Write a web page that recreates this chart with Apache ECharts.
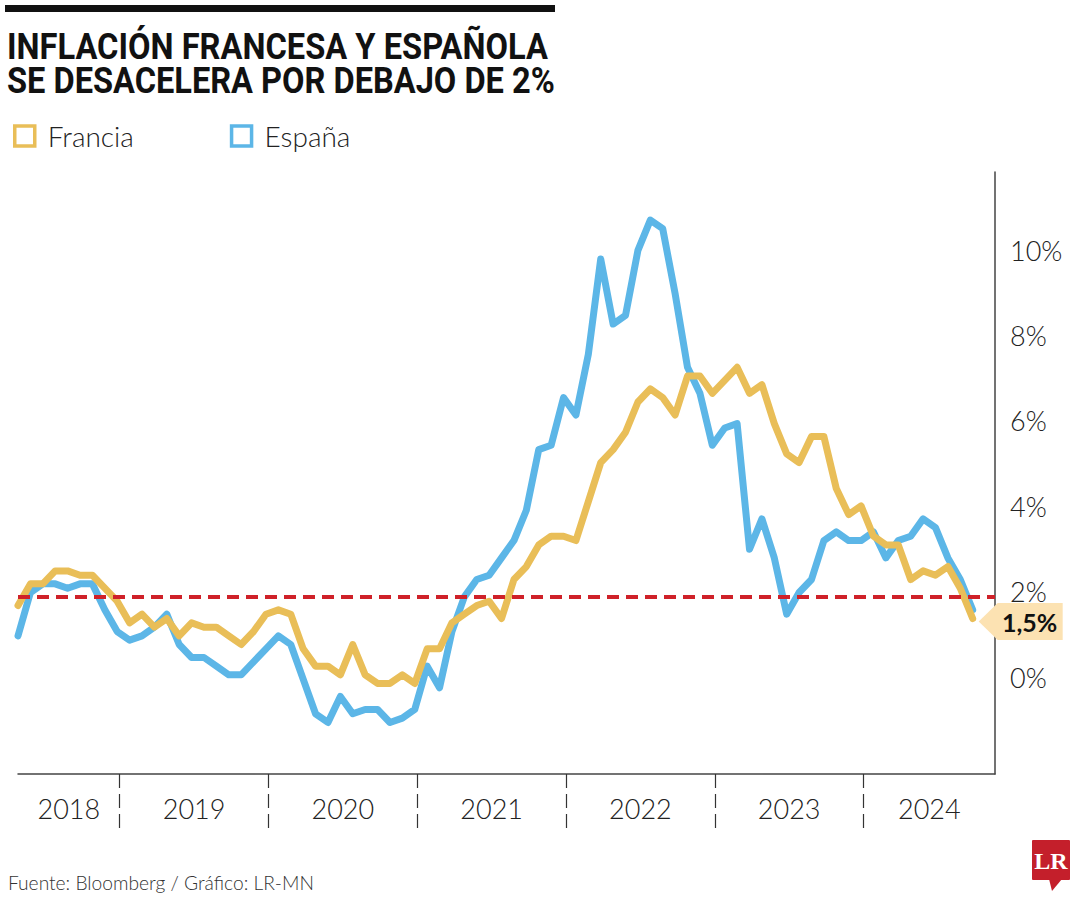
<!DOCTYPE html>
<html><head><meta charset="utf-8">
<script src="https://cdn.jsdelivr.net/npm/echarts@6/dist/echarts.min.js"></script>
<style>html,body{margin:0;padding:0;background:#fff}#c{width:1080px;height:900px}</style>
</head><body><div id="c"></div>
<script>
// ---------- data ----------
const months = [
 '2018-04','2018-05','2018-06','2018-07','2018-08','2018-09','2018-10','2018-11','2018-12',
 '2019-01','2019-02','2019-03','2019-04','2019-05','2019-06','2019-07','2019-08','2019-09','2019-10','2019-11','2019-12',
 '2020-01','2020-02','2020-03','2020-04','2020-05','2020-06','2020-07','2020-08','2020-09','2020-10','2020-11','2020-12',
 '2021-01','2021-02','2021-03','2021-04','2021-05','2021-06','2021-07','2021-08','2021-09','2021-10','2021-11','2021-12',
 '2022-01','2022-02','2022-03','2022-04','2022-05','2022-06','2022-07','2022-08','2022-09','2022-10','2022-11','2022-12',
 '2023-01','2023-02','2023-03','2023-04','2023-05','2023-06','2023-07','2023-08','2023-09','2023-10','2023-11','2023-12',
 '2024-01','2024-02','2024-03','2024-04','2024-05','2024-06','2024-07','2024-08','2024-09'
];
const francia = [
 1.8, 2.3, 2.3, 2.6, 2.6, 2.5, 2.5, 2.2, 1.9,
 1.4, 1.6, 1.3, 1.5, 1.1, 1.4, 1.3, 1.3, 1.1, 0.9, 1.2, 1.6,
 1.7, 1.6, 0.8, 0.4, 0.4, 0.2, 0.9, 0.2, 0.0, 0.0, 0.2, 0.0,
 0.8, 0.8, 1.4, 1.6, 1.8, 1.9, 1.5, 2.4, 2.7, 3.2, 3.4, 3.4,
 3.3, 4.2, 5.1, 5.4, 5.8, 6.5, 6.8, 6.6, 6.2, 7.1, 7.1, 6.7,
 7.0, 7.3, 6.7, 6.9, 6.0, 5.3, 5.1, 5.7, 5.7, 4.5, 3.9, 4.1,
 3.4, 3.2, 3.2, 2.4, 2.6, 2.5, 2.7, 2.2, 1.5
];
const espana = [
 1.1, 2.1, 2.3, 2.3, 2.2, 2.3, 2.3, 1.7, 1.2,
 1.0, 1.1, 1.3, 1.6, 0.9, 0.6, 0.6, 0.4, 0.2, 0.2, 0.5, 0.8,
 1.1, 0.9, 0.1, -0.7, -0.9, -0.3, -0.7, -0.6, -0.6, -0.9, -0.8, -0.6,
 0.4, -0.1, 1.2, 2.0, 2.4, 2.5, 2.9, 3.3, 4.0, 5.4, 5.5, 6.6,
 6.2, 7.6, 9.8, 8.3, 8.5, 10.0, 10.7, 10.5, 9.0, 7.3, 6.7, 5.5,
 5.9, 6.0, 3.1, 3.8, 2.9, 1.6, 2.1, 2.4, 3.3, 3.5, 3.3, 3.3,
 3.5, 2.9, 3.3, 3.4, 3.8, 3.6, 2.9, 2.4, 1.7
];
const years = ['2018','2019','2020','2021','2022','2023','2024'];
const yTicks = [0, 2, 4, 6, 8, 10];
const targetLine = 2;
const lastLabel = '1,5%';
const titleLines = ['INFLACIÓN FRANCESA Y ESPAÑOLA', 'SE DESACELERA POR DEBAJO DE 2%'];
const sourceText = 'Fuente: Bloomberg / Gráfico: LR-MN';

// ---------- layout helpers ----------
const GOLD = '#E9BE58', BLUE = '#5CB6E7', RED = '#CF2129';
const xMax = 78.8;
const breaks = years.slice(1).map(y => months.indexOf(y + '-01') - 0.8);
const edges = [0].concat(breaks, [xMax]);
const yearPos = years.map((y, i) => (edges[i] + edges[i + 1]) / 2);

const ctx = document.createElement('canvas').getContext('2d');
function fit(text, font, w) { ctx.font = font; return w / ctx.measureText(text).width; }
const TFONT = 'bold 36px Roboto';
const SFONT = '300 19px Lato';

const chart = echarts.init(document.getElementById('c'), null, { renderer: 'svg', width: 1080, height: 900 });
chart.setOption({
  backgroundColor: '#ffffff',
  animation: false,
  grid: { left: 18, right: 85, top: 172, bottom: 126, containLabel: false },
  legend: {
    left: 8, top: 117, itemWidth: 20, itemHeight: 20, itemGap: 96, icon: 'rect', selectedMode: false,
    textStyle: { fontFamily: 'Lato', fontWeight: 300, fontSize: 28, color: '#222', padding: [0, 0, 0, 8] },
    data: [
      { name: 'Francia', itemStyle: { color: 'rgba(0,0,0,0)', borderColor: GOLD, borderWidth: 3.5 } },
      { name: 'España', itemStyle: { color: 'rgba(0,0,0,0)', borderColor: BLUE, borderWidth: 3.5 } }
    ]
  },
  xAxis: {
    type: 'value', min: 0, max: xMax,
    splitLine: { show: false },
    axisLine: { show: true, onZero: false, lineStyle: { color: '#444', width: 1.5 } },
    axisTick: { show: true, customValues: breaks, length: 54, lineStyle: { color: '#333', width: 1.2, type: [14, 6] } },
    axisLabel: {
      show: true, customValues: yearPos, margin: 21,
      formatter: (v) => { let k = 0, d = 1e9; yearPos.forEach((p, i) => { if (Math.abs(p - v) < d) { d = Math.abs(p - v); k = i; } }); return years[k]; },
      fontFamily: 'Lato', fontWeight: 300, fontSize: 27, color: '#222'
    }
  },
  yAxis: [
    {
      type: 'value', position: 'right', min: -2.09, max: 11.81,
      splitLine: { show: false },
      axisLine: { show: true, onZero: false, lineStyle: { color: '#444', width: 1.5 } },
      axisTick: { show: false }, axisLabel: { show: false }
    },
    {
      type: 'value', position: 'right', min: -2.27, max: 11.83,
      splitLine: { show: false }, axisLine: { show: false, onZero: false }, axisTick: { show: false },
      axisLabel: { show: true, customValues: yTicks, formatter: '{value}%', margin: 15,
        fontFamily: 'Lato', fontWeight: 300, fontSize: 27, color: '#222' }
    }
  ],
  series: [
    {
      name: 'España', type: 'line', yAxisIndex: 0, symbol: 'none', showSymbol: false, z: 2,
      color: BLUE, data: espana.map((v, i) => [i, v]),
      lineStyle: { color: BLUE, width: 7, cap: 'round', join: 'round' },
      markLine: {
        silent: true, symbol: 'none', label: { show: false },
        lineStyle: { color: RED, width: 4, type: [12, 7] },
        data: [{ yAxis: targetLine }]
      }
    },
    {
      name: 'Francia', type: 'line', yAxisIndex: 0, symbol: 'none', showSymbol: false, z: 3,
      color: GOLD, data: francia.map((v, i) => [i, v]),
      lineStyle: { color: GOLD, width: 7, cap: 'round', join: 'round' },
      markPoint: {
        silent: true,
        symbol: 'path://M0,18.5L19,0L84,0L84,37L19,37Z',
        symbolSize: [84, 37], symbolKeepAspect: false, symbolOffset: [48, 3],
        itemStyle: { color: '#FCE2B2' },
        label: { show: true, position: 'inside', formatter: lastLabel, offset: [9, 0],
          fontFamily: 'Lato', fontWeight: 'bold', fontSize: 25, color: '#111' },
        data: [{ coord: [francia.length - 1, francia[francia.length - 1]] }]
      }
    }
  ],
  graphic: [
    { type: 'rect', left: 5, top: 5, shape: { width: 550, height: 7 }, style: { fill: '#111' } },
    { type: 'text', x: 7, y: 46, scaleX: fit(titleLines[0], TFONT, 541),
      style: { text: titleLines[0], font: TFONT, fill: '#111', align: 'left', verticalAlign: 'middle' } },
    { type: 'text', x: 7, y: 80, scaleX: fit(titleLines[1], TFONT, 548),
      style: { text: titleLines[1], font: TFONT, fill: '#111', align: 'left', verticalAlign: 'middle' } },
    { type: 'text', x: 8, y: 883, scaleX: fit(sourceText, SFONT, 306),
      style: { text: sourceText, font: SFONT, fill: '#333', align: 'left', verticalAlign: 'middle' } },
    { type: 'rect', shape: { x: 1032, y: 840, width: 38, height: 40, r: 1 }, style: { fill: '#C41F2B' } },
    { type: 'polygon', shape: { points: [[1049, 879], [1062, 879], [1052, 891]] }, style: { fill: '#C41F2B' } },
    { type: 'text', x: 1051, y: 861,
      style: { text: 'LR', font: 'bold 24px "Liberation Serif"', fill: '#fff', align: 'center', verticalAlign: 'middle' } }
  ]
});
</script>
</body></html>
